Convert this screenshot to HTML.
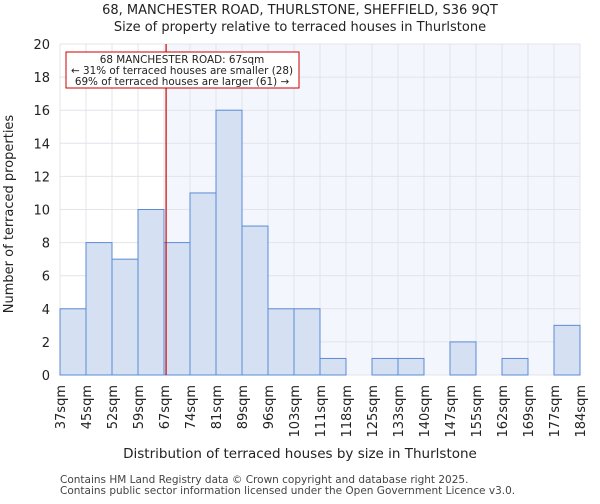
<!DOCTYPE html>
<html><head><meta charset="utf-8"><style>
body{margin:0;background:#fff;font-family:"DejaVu Sans","Liberation Sans",sans-serif}
</style></head><body>
<svg id="c" width="600" height="500" xmlns="http://www.w3.org/2000/svg" font-family="DejaVu Sans, Liberation Sans, sans-serif">
<text x="300" y="14" text-anchor="middle" font-size="13" fill="#222">68, MANCHESTER ROAD, THURLSTONE, SHEFFIELD, S36 9QT</text>
<text x="300" y="31" text-anchor="middle" font-size="13" fill="#222">Size of property relative to terraced houses in Thurlstone</text>
<g id="plot"></g>
<text x="300" y="458" text-anchor="middle" font-size="13.5" fill="#222">Distribution of terraced houses by size in Thurlstone</text>
<text transform="translate(13,214) rotate(-90)" text-anchor="middle" font-size="13" fill="#222">Number of terraced properties</text>
<text x="60" y="483" font-size="10.5" fill="#444">Contains HM Land Registry data © Crown copyright and database right 2025.</text>
<text x="60" y="494" font-size="10.5" fill="#444">Contains public sector information licensed under the Open Government Licence v3.0.</text>
</svg>
<script>
const binLabels=["37sqm","45sqm","52sqm","59sqm","67sqm","74sqm","81sqm","89sqm","96sqm","103sqm","111sqm","118sqm","125sqm","133sqm","140sqm","147sqm","155sqm","162sqm","169sqm","177sqm","184sqm"];
const counts=[4,8,7,10,8,11,16,9,4,4,1,0,1,1,0,2,0,1,0,3];
const yTicks=[0,2,4,6,8,10,12,14,16,18,20];
const propertyBinPos=4.08;
const NS="http://www.w3.org/2000/svg";
const L=60,R=580,T=44,B=375,yMax=20;
const bw=(R-L)/counts.length;
const xs=i=>L+i*bw;
const ys=v=>B-(v/yMax)*(B-T);
const g=document.getElementById('plot');
function mk(t,a){const e=document.createElementNS(NS,t);for(const k in a)e.setAttribute(k,a[k]);g.appendChild(e);return e;}
const px=xs(propertyBinPos);
let bg=mk('rect',{x:px,y:T,width:R-px,height:B-T,fill:'#f4f6fd'});


for(let i=0;i<=counts.length;i++){let l=mk('line',{x1:xs(i),x2:xs(i),y1:T,y2:B,stroke:'#e2e4ea',"stroke-width":1});

}
yTicks.forEach(v=>{let l=mk('line',{x1:L,x2:R,y1:ys(v),y2:ys(v),stroke:'#e2e4ea',"stroke-width":1});


let t=mk('text',{x:L-10,y:ys(v)+5,"text-anchor":"end","font-size":13,fill:'#222'});t.textContent=v;

});
counts.forEach((c,i)=>{if(c<=0)return;let r=mk('rect',{x:xs(i),y:ys(c),width:bw,height:ys(0)-ys(c),fill:'#d6e0f3',stroke:'#5b8bd6',"stroke-width":1});

});
binLabels.forEach((s,i)=>{let t=mk('text',{transform:`translate(${xs(i)+5},${B+10}) rotate(-90)`,"text-anchor":"end","font-size":13,fill:'#222'});t.textContent=s;

});
let rl=mk('line',{x1:px,x2:px,y1:T,y2:B,stroke:'#cc0000',"stroke-width":1.2});


let box=mk('rect',{x:66,y:52,width:233,height:36,fill:'#fff',stroke:'#cc0000',"stroke-width":1});


["68 MANCHESTER ROAD: 67sqm","← 31% of terraced houses are smaller (28)","69% of terraced houses are larger (61) →"].forEach((s,i)=>{let t=mk('text',{x:182,y:63+i*11,"text-anchor":"middle","font-size":10.4,fill:'#222'});t.textContent=s;

});
</script>
</body></html>
